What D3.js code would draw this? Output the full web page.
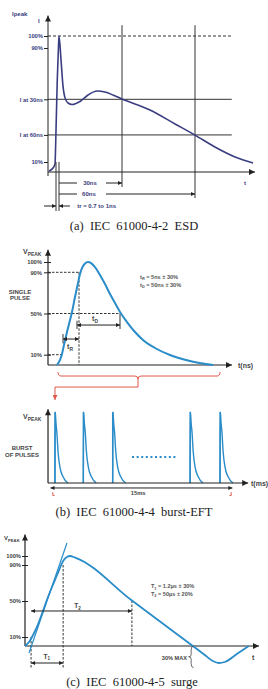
<!DOCTYPE html>
<html lang="en">
<head>
<meta charset="UTF-8">
<title>IEC 61000-4 test waveforms</title>
<script src="https://d3js.org/d3.v7.min.js"></script>
<style>
  body { margin: 0; background: #fff; }
  text { font-family: "Liberation Sans", Arial, sans-serif; }
  .cap { font-family: "Liberation Serif", "Times New Roman", serif; font-size: 12.5px; fill: #222; font-weight: normal; }
</style>
</head>
<body>
<div id="chart"></div>
<script>
// (a) IEC 61000-4-2 ESD : time in ns, current in % of Ipeak
const esdTime = [-3.6, -2, -1.2, -0.8, -0.3, 0.2, 0.47, 1.4, 2.3, 3.3, 4.7, 6.6, 10.3, 14.1, 18.3, 22, 25.8, 30, 41.5, 51.8, 60, 70.3, 80.7, 90];
const esdCurrent = [1, 4, 8, 32, 67, 90, 100, 82, 64, 55, 51.4, 50.4, 52.5, 57, 59.8, 59.1, 57, 54.2, 46.5, 36.7, 28.9, 20.5, 13.5, 9];
const esdTicks = [100, 90, 54, 29, 10];
const esdTickLabels = ["100%", "90%", "I at 30ns", "I at 60ns", "10%"];
const esdMarks = [30, 60];

// (b) IEC 61000-4-4 EFT : single pulse (ns) and burst (ms)
const eftTime = [0, 3, 5, 7, 10, 13, 15, 18, 21, 23, 25, 28, 31, 38, 43, 48, 53, 58, 63, 70, 78, 86, 98, 113, 133, 156];
const eftVolt = [0, 4.9, 10.7, 19.4, 32, 43.7, 51.5, 66, 79.6, 88.3, 94, 98.5, 100, 95.1, 87.4, 78.6, 68.9, 60.2, 51.5, 41.7, 32, 24.3, 16.5, 9.7, 3.9, 0];
const eftTicks = [100, 90, 50, 10];
const eftTickLabels = ["100%", "90%", "50%", "10%"];
const burstStart = [0.08, 2.5, 5.0, 11.6, 14.15];
const pulseTime = [0, 0.03, 0.085, 0.17, 0.26, 0.43, 0.68, 1.1];
const pulseVolt = [0, 100, 85, 70, 45, 22, 9, 0];

// (c) IEC 61000-4-5 surge : time in us, voltage in %
const surgeTime = [-3, -1, 1, 3.5, 5.9, 8.4, 11.4, 13.9, 15.9, 17.8, 19.3, 21.8, 50, 80.2, 86.1, 90.1, 93.1, 96, 102, 107.9];
const surgeVolt = [0, 4.4, 12.2, 24.4, 38.9, 54.4, 71, 84.4, 94.4, 98.9, 100, 98.3, 50.5, 0, -10, -16.7, -18.9, -17.8, -8.9, 0];
const surgeTicks = [100, 90, 50, 10];
const surgeTickLabels = ["100%", "90%", "50%", "10%"];

const navy = "#3a3d80", ink = "#222", blue = "#2a8cc8", red = "#e0594c", grey = "#444";

const svg = d3.select("#chart").append("svg").attr("width", 268).attr("height", 689);
const defs = svg.append("defs");
function marker(id, color, w, h) {
  defs.append("marker").attr("id", id)
    .attr("viewBox", "0 0 10 10").attr("refX", 10).attr("refY", 5)
    .attr("markerWidth", w).attr("markerHeight", h)
    .attr("markerUnits", "userSpaceOnUse")
    .attr("orient", "auto-start-reverse")
    .append("path").attr("d", "M0,0L10,5L0,10Z").attr("fill", color);
}
marker("ax", ink, 9, 6);
marker("dim", ink, 5, 4);
marker("redArr", red, 6, 5);

function seg(g, x1, y1, x2, y2, o = {}) {
  const l = g.append("line").attr("x1", x1).attr("y1", y1).attr("x2", x2).attr("y2", y2)
    .attr("stroke", o.c || ink).attr("stroke-width", o.w || 1);
  if (o.dash) l.attr("stroke-dasharray", o.dash);
  if (o.end) l.attr("marker-end", `url(#${o.end})`);
  if (o.start) l.attr("marker-start", `url(#${o.start})`);
  return l;
}
function label(g, x, y, txt, o = {}) {
  const t = g.append("text").attr("x", x).attr("y", y)
    .attr("font-size", o.size || 6).attr("font-weight", "bold")
    .attr("fill", o.c || grey).attr("text-anchor", o.anchor || "start");
  if (o.sub) {
    t.append("tspan").text(txt);
    t.append("tspan").text(o.sub).attr("font-size", (o.size || 6) * 0.7).attr("dy", 1.5);
    if (o.rest) t.append("tspan").text(o.rest).attr("dy", -1.5);
  } else t.text(txt);
  return t;
}
function yTicks(g, x, scale, vals, labels, size, pad, color) {
  g.append("g").attr("transform", `translate(${x},0)`)
    .call(d3.axisLeft(scale).tickValues(vals).tickFormat((d, i) => labels[i]).tickSize(size).tickPadding(pad))
    .call(a => a.select(".domain").remove())
    .call(a => a.selectAll("line").attr("stroke", ink))
    .call(a => a.selectAll("text").attr("font-size", 5.8).attr("font-weight", "bold")
      .attr("fill", color).style("font-family", "'Liberation Sans', Arial, sans-serif"));
}

// ------------------------------------------------------------ (a) ESD
const xA = d3.scaleLinear().domain([-4, 0, 30, 60, 91]).range([48, 58, 122, 195, 255]);
const yA = d3.scaleLinear().domain([0, 10, 90, 100]).range([172, 162, 48, 36]);
const gA = svg.append("g");

seg(gA, xA(-4), yA(100), xA(79), yA(100), { dash: "3,2", c: "#333" });
[54, 29].forEach(v => seg(gA, xA(-4), yA(v), xA(79), yA(v), { c: "#333" }));
seg(gA, xA(30), yA(109), xA(30), yA(-15), { c: "#333" });
seg(gA, xA(60), yA(109), xA(60), yA(-26), { c: "#333" });
seg(gA, xA(-4), yA(-4), xA(-4), yA(117), { end: "ax" });
seg(gA, xA(-4), yA(0), xA(91), yA(0), { end: "ax" });
yTicks(gA, xA(-4), yA, esdTicks, esdTickLabels, 4, 1, navy);

gA.append("path")
  .datum(esdTime.map((t, i) => [t, esdCurrent[i]]))
  .attr("fill", "none").attr("stroke", navy).attr("stroke-width", 1.6)
  .attr("d", d3.line().x(d => xA(d[0])).y(d => yA(d[1])).curve(d3.curveMonotoneX));

// tr markers and dimension arrows
seg(gA, xA(-0.8), yA(10), xA(-0.8), yA(-39), { c: "#333" });
seg(gA, xA(0.47), yA(10), xA(0.47), yA(-39), { c: "#333" });
seg(gA, xA(0.47), yA(-11), xA(8.9), yA(-11));
seg(gA, xA(22.5), yA(-11), xA(esdMarks[0]), yA(-11), { end: "dim" });
label(gA, xA(15), yA(-11) + 2, "30ns", { anchor: "middle", c: navy });
seg(gA, xA(0.47), yA(-22), xA(8.9), yA(-22));
seg(gA, xA(22.5), yA(-22), xA(esdMarks[1]), yA(-22), { end: "dim" });
label(gA, xA(14.5), yA(-22) + 2, "60ns", { anchor: "middle", c: navy });
seg(gA, xA(-5.6), yA(-34), xA(-0.8), yA(-34), { end: "dim" });
seg(gA, xA(5.6), yA(-34), xA(0.47), yA(-34), { end: "dim" });
label(gA, xA(9), yA(-34) + 2, "tr = 0.7 to 1ns", { c: navy });

label(gA, 12, 16, "Ipeak", { c: navy });
label(gA, 38, 23, "I", { c: navy });
label(gA, 244, 185, "t", { c: navy });
gA.append("text").attr("class", "cap").attr("x", 134).attr("y", 230).attr("text-anchor", "middle")
  .attr("xml:space", "preserve").text("(a)  IEC  61000-4-2  ESD");

// ------------------------------------------------------------ (b) EFT single pulse
const xB = d3.scaleLinear().domain([0, 156]).range([57, 213]);
const yB = d3.scaleLinear().domain([0, 100]).range([365, 262]);
const gB = svg.append("g");

const dash = "2.5,1.5";
seg(gB, xB(-9), yB(90), xB(22), yB(90), { dash, c: "#333" });
seg(gB, xB(22), yB(90), xB(22), yB(0), { dash, c: "#333" });
seg(gB, xB(-9), yB(50), xB(63), yB(50), { dash, c: "#333" });
seg(gB, xB(-9), yB(10), xB(5), yB(10), { dash, c: "#333" });
seg(gB, xB(63), yB(50), xB(63), yB(35), { c: "#333" });
seg(gB, xB(-9), yB(0), xB(-9), yB(112), { end: "ax", w: 1.2 });
seg(gB, xB(-9), yB(0), xB(175), yB(0), { end: "ax", w: 1.2 });
yTicks(gB, xB(-6), yB, eftTicks, eftTickLabels, 7, 2, grey);

gB.append("path")
  .datum(eftTime.map((t, i) => [t, eftVolt[i]]))
  .attr("fill", "none").attr("stroke", blue).attr("stroke-width", 2)
  .attr("d", d3.line().x(d => xB(d[0])).y(d => yB(d[1])).curve(d3.curveMonotoneX));

seg(gB, xB(20), yB(38.8), xB(63), yB(38.8), { start: "dim", end: "dim" });
seg(gB, xB(20), yB(43), xB(20), yB(35), { c: "#333" });
label(gB, xB(38), yB(42.7), "t", { anchor: "middle", sub: "D", size: 7 });
seg(gB, xB(6), yB(25.2), xB(22), yB(25.2), { start: "dim", end: "dim" });
seg(gB, xB(6), yB(30), xB(6), yB(21), { c: "#333" });
label(gB, xB(13), yB(15.5), "t", { anchor: "middle", sub: "R", size: 7 });

label(gB, 23, 254, "V", { sub: "PEAK", size: 7 });
label(gB, 20, 293.5, "SINGLE", { anchor: "middle" });
label(gB, 20, 300, "PULSE", { anchor: "middle" });
label(gB, 140, 278.5, "t", { sub: "R", rest: " = 5ns ± 30%", size: 5.6, c: "#555" });
label(gB, 140, 286.5, "t", { sub: "D", rest: " = 50ns ± 30%", size: 5.6, c: "#555" });
label(gB, xB(181), yB(-3), "t(ns)", { size: 7 });

// red bracket leading to the burst
const rb = d3.path();
rb.moveTo(xB(1), yB(-6.8));
rb.quadraticCurveTo(xB(1), yB(-10.7), xB(4), yB(-10.7));
rb.lineTo(xB(78), yB(-10.7));
rb.quadraticCurveTo(xB(81), yB(-10.7), xB(81), yB(-14));
rb.lineTo(xB(81), yB(-21.4));
rb.moveTo(xB(81), yB(-14));
rb.quadraticCurveTo(xB(81), yB(-10.7), xB(84), yB(-10.7));
rb.lineTo(xB(160), yB(-10.7));
rb.quadraticCurveTo(xB(163), yB(-10.7), xB(163), yB(-6.8));
gB.append("path").attr("d", rb.toString()).attr("fill", "none").attr("stroke", red).attr("stroke-width", 1);
seg(gB, xB(81), yB(-21.4), xB(-2), yB(-21.4), { c: red });
seg(gB, xB(-2), yB(-21.4), xB(-2), yB(-34), { c: red, end: "redArr" });

// ------------------------------------------------------------ (b) burst
const xBu = d3.scaleLinear().domain([0, 15]).range([54, 230]);
const yBu = d3.scaleLinear().domain([0, 100]).range([483, 412]);
const gBu = svg.append("g");

seg(gBu, xBu(-0.51), yBu(0), xBu(-0.51), yBu(104), { end: "ax", w: 1.2 });
burstStart.forEach(t0 => {
  seg(gBu, xBu(t0), yBu(0), xBu(t0), yBu(100), { c: blue, w: 1.4 });
  gBu.append("path")
    .datum(pulseTime.map((t, i) => [t0 + t, pulseVolt[i]]))
    .attr("fill", "none").attr("stroke", blue).attr("stroke-width", 1.4)
    .attr("d", d3.line().x(d => xBu(d[0])).y(d => yBu(d[1])).curve(d3.curveMonotoneX));
});
seg(gBu, xBu(-0.51), yBu(0), xBu(16.55), yBu(0), { end: "ax", w: 1.2 });
seg(gBu, xBu(6.65), yBu(36.6), xBu(10.5), yBu(36.6), { c: blue, w: 2, dash: "2,2.6" });
label(gBu, 251, 486, "t(ms)", { size: 7 });
seg(gBu, xBu(-0.3), yBu(-7), xBu(15.2), yBu(-7), { start: "dim", end: "dim" });
label(gBu, xBu(7.17), yBu(-16.9), "15ms", { anchor: "middle", size: 5.8 });
seg(gBu, xBu(-0.1), yBu(-13), xBu(-0.1), yBu(-17.5), { c: red });
seg(gBu, xBu(-0.1), yBu(-17.5), xBu(0.05), yBu(-17.5), { c: red });
seg(gBu, xBu(15.1), yBu(-13), xBu(15.1), yBu(-17.5), { c: red });
seg(gBu, xBu(15.1), yBu(-17.5), xBu(14.95), yBu(-17.5), { c: red });

label(gBu, 23, 419, "V", { sub: "PEAK", size: 7 });
label(gBu, 22, 450, "BURST", { anchor: "middle" });
label(gBu, 22, 457, "OF PULSES", { anchor: "middle" });
gBu.append("text").attr("class", "cap").attr("x", 134).attr("y", 516).attr("text-anchor", "middle")
  .attr("xml:space", "preserve").text("(b)  IEC  61000-4-4  burst-EFT");

// ------------------------------------------------------------ (c) surge
const xC = d3.scaleLinear().domain([-3, 112]).range([25, 257]);
const yC = d3.scaleLinear().domain([0, 100]).range([646, 556]);
const gC = svg.append("g");

seg(gC, xC(0), yC(10), xC(0), yC(-24.4), { dash, c: "#333" });
seg(gC, xC(15.9), yC(90), xC(15.9), yC(-24.4), { dash, c: "#333" });
seg(gC, xC(50), yC(50.5), xC(50), yC(0), { dash, c: "#333" });
seg(gC, xC(-3), yC(0), xC(-3), yC(124), { end: "ax", w: 1.2 });
seg(gC, xC(-3), yC(0), xC(113), yC(0), { end: "ax", w: 1.2 });
yTicks(gC, xC(-1.5), yC, surgeTicks, surgeTickLabels, 6, 1, grey);

gC.append("path")
  .datum(surgeTime.map((t, i) => [t, surgeVolt[i]]))
  .attr("fill", "none").attr("stroke", blue).attr("stroke-width", 1.8)
  .attr("d", d3.line().x(d => xC(d[0])).y(d => yC(d[1])).curve(d3.curveMonotoneX));
seg(gC, xC(-1), yC(-7.8), xC(17.8), yC(114.4), { c: blue, w: 1.2 });

seg(gC, xC(0), yC(38.9), xC(50), yC(38.9), { start: "dim", end: "dim" });
label(gC, xC(23), yC(42), "T", { anchor: "middle", sub: "2", size: 6.5 });
seg(gC, xC(0), yC(-18.9), xC(15.9), yC(-18.9), { start: "dim", end: "dim" });
label(gC, xC(7.8), yC(-14.4), "T", { anchor: "middle", sub: "1", size: 6.5 });

label(gC, xC(59.4), yC(64.4), "T", { sub: "1", rest: " = 1.2µs ± 30%", size: 5.6, c: "#555" });
label(gC, xC(59.4), yC(55.6), "T", { sub: "2", rest: " = 50µs ± 20%", size: 5.6, c: "#555" });
label(gC, xC(77.3), yC(-15.6), "30% MAX", { anchor: "end", size: 5.6 });

const br = d3.path();
const bx = xC(80.6), by0 = yC(0), by1 = yC(-24);
br.moveTo(bx, by0);
br.quadraticCurveTo(bx - 2.5, by0, bx - 2.5, by0 + 4);
br.lineTo(bx - 2.5, (by0 + by1) / 2 - 2);
br.quadraticCurveTo(bx - 2.5, (by0 + by1) / 2, bx - 5, (by0 + by1) / 2);
br.quadraticCurveTo(bx - 2.5, (by0 + by1) / 2, bx - 2.5, (by0 + by1) / 2 + 2);
br.lineTo(bx - 2.5, by1 - 4);
br.quadraticCurveTo(bx - 2.5, by1, bx, by1);
gC.append("path").attr("d", br.toString()).attr("fill", "none").attr("stroke", "#444").attr("stroke-width", 0.8);

label(gC, 4, 540, "V", { sub: "PEAK", size: 6 });
label(gC, 252, 660, "t", { size: 7 });
gC.append("text").attr("class", "cap").attr("x", 132).attr("y", 686).attr("text-anchor", "middle")
  .attr("xml:space", "preserve").text("(c)  IEC  61000-4-5  surge");
</script>
</body>
</html>
